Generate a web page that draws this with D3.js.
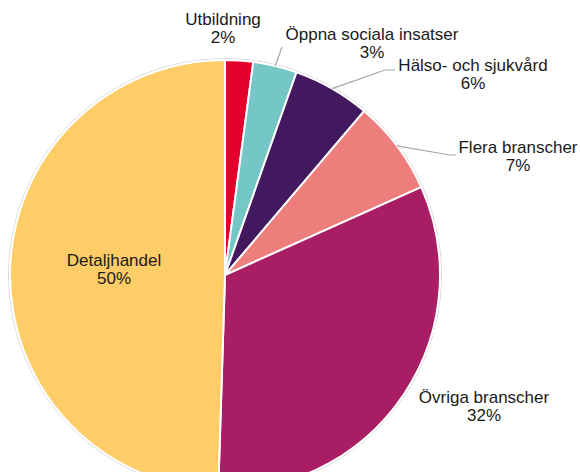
<!DOCTYPE html>
<html>
<head>
<meta charset="utf-8">
<script src="https://cdn.jsdelivr.net/npm/d3@7"></script>
<style>
  body { margin: 0; background: #fff; }
  svg { display: block; }
  text { font-family: "Liberation Sans", Arial, sans-serif; font-size: 17px; fill: #1a1a1a; }
</style>
</head>
<body>
<div id="chart"></div>
<script>
// data
var categories = ["Utbildning", "Öppna sociala insatser", "Hälso- och sjukvård", "Flera branscher", "Övriga branscher", "Detaljhandel"];
var values = [2.1, 3.3, 5.8, 7.1, 32.2, 49.5];
var percentLabels = ["2%", "3%", "6%", "7%", "32%", "50%"];
var colors = ["#e4002b", "#74c6c7", "#42185e", "#ee7e7c", "#a91d65", "#fecd67"];

var width = 580, height = 472;
var cx = 225, cy = 275, radius = 215;

// label placement (text centre x, first baseline y), null = inside label
var labelPos = [
  [223, 25],
  [372, 40],
  [473, 71],
  [518, 153],
  [484, 403],
  null
];
// leader line elbows [x, y] -> horizontal end x
var leaderBend = [
  null,
  [[282, 47]],
  [[385, 70], [395, 70]],
  [[450, 155], [456, 155]],
  null,
  null
];

var svg = d3.select('#chart').append('svg')
  .attr('width', width)
  .attr('height', height);

var g = svg.append('g')
  .attr('transform', `translate(${cx},${cy})`);

var pie = d3.pie().sort(null).value(d => d);
var arcs = pie(values);

var arc = d3.arc().innerRadius(0).outerRadius(radius);
var edgeArc = d3.arc().innerRadius(radius).outerRadius(radius);
var insideArc = d3.arc().innerRadius(111 * 2).outerRadius(0);

// faint outer ring
g.append('circle')
  .attr('r', radius + 1.5)
  .attr('fill', 'none')
  .attr('stroke', '#d9d9d9')
  .attr('stroke-width', 1);

g.selectAll('path.slice')
  .data(arcs)
  .enter().append('path')
  .attr('class', 'slice')
  .attr('d', arc)
  .attr('fill', (d, i) => colors[i])
  .attr('stroke', '#fff')
  .attr('stroke-width', 2)
  .attr('stroke-linejoin', 'round');

// leader lines
arcs.forEach((d, i) => {
  if (!leaderBend[i]) return;
  var start = edgeArc.centroid(d);
  var pts = [[start[0] + cx, start[1] + cy]].concat(leaderBend[i]);
  svg.append('path')
    .attr('d', d3.line()(pts))
    .attr('fill', 'none')
    .attr('stroke', '#a6a6a6')
    .attr('stroke-width', 1.2);
});

// labels
arcs.forEach((d, i) => {
  var x, y;
  if (labelPos[i]) {
    x = labelPos[i][0];
    y = labelPos[i][1];
  } else {
    var c = insideArc.centroid(d);
    x = c[0] + cx;
    y = c[1] + cy - 7;
  }
  var t = svg.append('text')
    .attr('text-anchor', 'middle')
    .attr('x', x)
    .attr('y', y);
  t.append('tspan').attr('x', x).text(categories[i]);
  t.append('tspan').attr('x', x).attr('dy', 18).text(percentLabels[i]);
});
</script>
</body>
</html>
